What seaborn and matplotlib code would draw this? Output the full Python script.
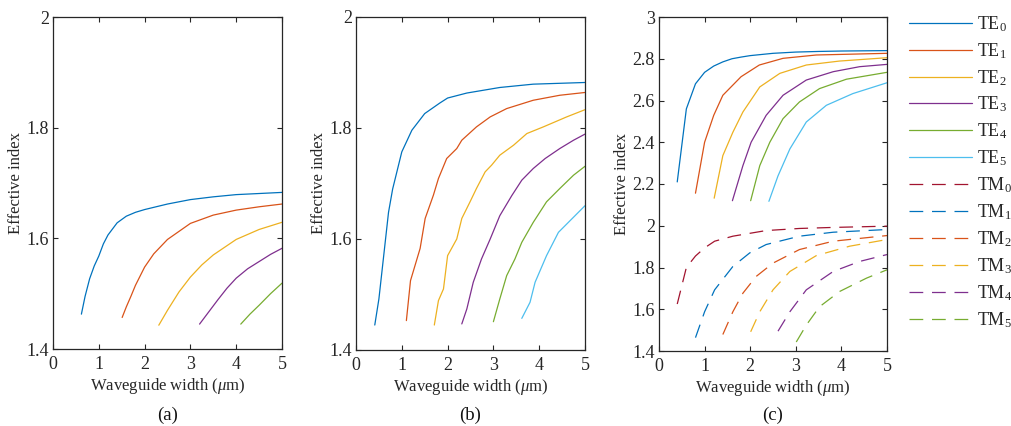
import numpy as np
import pandas as pd
import matplotlib
matplotlib.use("Agg")
import matplotlib.pyplot as plt
import seaborn as sns

# ---------------- data ----------------
# Panel (a)
a_TE0_x = [0.62, 0.7, 0.8, 0.9, 1.0, 1.1, 1.2, 1.4, 1.6, 1.8, 2.0, 2.5, 3.0, 3.5, 4.0, 4.5, 5.0]
a_TE0_y = [1.463, 1.495, 1.527, 1.550, 1.568, 1.590, 1.606, 1.628, 1.640, 1.647, 1.652, 1.662, 1.670, 1.675, 1.679, 1.681, 1.683]
a_TE1_x = [1.51, 1.6, 1.7, 1.8, 2.0, 2.2, 2.5, 3.0, 3.5, 4.0, 4.5, 5.0]
a_TE1_y = [1.457, 1.476, 1.495, 1.515, 1.548, 1.572, 1.598, 1.627, 1.642, 1.651, 1.657, 1.662]
a_TE2_x = [2.31, 2.5, 2.75, 3.0, 3.25, 3.5, 4.0, 4.5, 5.0]
a_TE2_y = [1.443, 1.470, 1.503, 1.530, 1.552, 1.570, 1.598, 1.616, 1.629]
a_TE3_x = [3.2, 3.4, 3.6, 3.8, 4.0, 4.25, 4.5, 4.75, 5.0]
a_TE3_y = [1.445, 1.467, 1.489, 1.510, 1.528, 1.545, 1.558, 1.571, 1.582]
a_TE4_x = [4.1, 4.3, 4.5, 4.75, 5.0]
a_TE4_y = [1.445, 1.463, 1.479, 1.500, 1.519]

# Panel (b)
b_TE0_x = [0.41, 0.5, 0.71, 0.8, 1.0, 1.22, 1.5, 1.83, 2.0, 2.42, 3.14, 3.87, 5.0]
b_TE0_y = [1.445, 1.492, 1.648, 1.690, 1.757, 1.796, 1.826, 1.845, 1.854, 1.863, 1.873, 1.879, 1.882]
b_TE1_x = [1.1, 1.19, 1.4, 1.51, 1.69, 1.8, 1.98, 2.2, 2.31, 2.63, 2.93, 3.29, 3.87, 4.45, 5.0]
b_TE1_y = [1.453, 1.525, 1.583, 1.637, 1.679, 1.709, 1.745, 1.763, 1.778, 1.802, 1.820, 1.835, 1.850, 1.859, 1.864]
b_TE2_x = [1.71, 1.8, 1.91, 2.0, 2.2, 2.31, 2.49, 2.63, 2.82, 2.96, 3.14, 3.44, 3.73, 4.09, 4.6, 5.0]
b_TE2_y = [1.445, 1.489, 1.510, 1.570, 1.600, 1.637, 1.667, 1.691, 1.721, 1.733, 1.751, 1.769, 1.790, 1.802, 1.820, 1.833]
b_TE3_x = [2.31, 2.42, 2.56, 2.74, 2.93, 3.14, 3.4, 3.62, 3.87, 4.13, 4.45, 4.75, 5.0]
b_TE3_y = [1.447, 1.474, 1.522, 1.564, 1.600, 1.642, 1.678, 1.706, 1.727, 1.745, 1.763, 1.778, 1.789]
b_TE4_x = [3.0, 3.14, 3.29, 3.47, 3.62, 3.87, 4.16, 4.45, 4.75, 5.0]
b_TE4_y = [1.451, 1.492, 1.534, 1.564, 1.594, 1.630, 1.667, 1.691, 1.715, 1.731]
b_TE5_x = [3.62, 3.8, 3.91, 4.16, 4.42, 4.71, 5.0]
b_TE5_y = [1.457, 1.486, 1.522, 1.570, 1.612, 1.636, 1.660]

# Panel (c)
c_TE0_x = [0.4, 0.6, 0.8, 1.0, 1.2, 1.4, 1.6, 1.8, 2.0, 2.5, 3.0, 3.5, 4.0, 4.5, 5.0]
c_TE0_y = [2.21, 2.56, 2.68, 2.735, 2.765, 2.785, 2.80, 2.808, 2.815, 2.826, 2.832, 2.835, 2.837, 2.838, 2.839]
c_TE1_x = [0.8, 1.0, 1.2, 1.4, 1.8, 2.2, 2.72, 3.45, 5.0]
c_TE1_y = [2.156, 2.400, 2.529, 2.625, 2.714, 2.770, 2.802, 2.818, 2.826]
c_TE2_x = [1.21, 1.4, 1.62, 1.84, 2.21, 2.65, 3.23, 3.96, 5.0]
c_TE2_y = [2.132, 2.336, 2.448, 2.545, 2.665, 2.730, 2.770, 2.789, 2.805]
c_TE3_x = [1.61, 1.84, 2.02, 2.35, 2.72, 3.23, 3.82, 4.40, 5.0]
c_TE3_y = [2.120, 2.288, 2.400, 2.529, 2.625, 2.698, 2.738, 2.762, 2.773]
c_TE4_x = [2.01, 2.21, 2.43, 2.72, 3.08, 3.52, 4.11, 5.0]
c_TE4_y = [2.120, 2.288, 2.400, 2.513, 2.593, 2.657, 2.702, 2.735]
c_TE5_x = [2.41, 2.61, 2.87, 3.23, 3.67, 4.25, 5.0]
c_TE5_y = [2.117, 2.239, 2.368, 2.497, 2.577, 2.633, 2.685]
c_TM0_x = [0.4, 0.6, 0.8, 1.0, 1.22, 1.62, 2.35, 3.08, 3.82, 5.0]
c_TM0_y = [1.625, 1.800, 1.855, 1.894, 1.926, 1.950, 1.977, 1.987, 1.992, 1.998]
c_TM1_x = [0.8, 1.0, 1.22, 1.62, 1.99, 2.35, 3.08, 3.82, 5.0]
c_TM1_y = [1.464, 1.588, 1.693, 1.805, 1.870, 1.910, 1.950, 1.969, 1.982]
c_TM2_x = [1.4, 1.62, 1.84, 2.13, 2.5, 3.08, 3.82, 5.0]
c_TM2_y = [1.479, 1.588, 1.677, 1.757, 1.821, 1.886, 1.926, 1.953]
c_TM3_x = [2.01, 2.21, 2.5, 2.87, 3.45, 4.18, 5.0]
c_TM3_y = [1.492, 1.588, 1.693, 1.781, 1.857, 1.902, 1.934]
c_TM4_x = [2.61, 2.87, 3.23, 3.82, 4.40, 5.0]
c_TM4_y = [1.495, 1.588, 1.693, 1.781, 1.829, 1.862]
c_TM5_x = [3.01, 3.23, 3.52, 3.96, 4.55, 5.0]
c_TM5_y = [1.443, 1.524, 1.612, 1.685, 1.749, 1.789]

mode_labels = ["TE$_0$", "TE$_1$", "TE$_2$", "TE$_3$", "TE$_4$", "TE$_5$",
               "TM$_0$", "TM$_1$", "TM$_2$", "TM$_3$", "TM$_4$", "TM$_5$"]
te_colors = ["#0072BD", "#D95319", "#EDB120", "#7E2F8E", "#77AC30", "#4DBEEE"]
tm_colors = ["#A2142F", "#0072BD", "#D95319", "#EDB120", "#7E2F8E", "#77AC30"]

panel_a = [(a_TE0_x, a_TE0_y), (a_TE1_x, a_TE1_y), (a_TE2_x, a_TE2_y),
           (a_TE3_x, a_TE3_y), (a_TE4_x, a_TE4_y)]
panel_b = [(b_TE0_x, b_TE0_y), (b_TE1_x, b_TE1_y), (b_TE2_x, b_TE2_y),
           (b_TE3_x, b_TE3_y), (b_TE4_x, b_TE4_y), (b_TE5_x, b_TE5_y)]
panel_c_te = [(c_TE0_x, c_TE0_y), (c_TE1_x, c_TE1_y), (c_TE2_x, c_TE2_y),
              (c_TE3_x, c_TE3_y), (c_TE4_x, c_TE4_y), (c_TE5_x, c_TE5_y)]
panel_c_tm = [(c_TM0_x, c_TM0_y), (c_TM1_x, c_TM1_y), (c_TM2_x, c_TM2_y),
              (c_TM3_x, c_TM3_y), (c_TM4_x, c_TM4_y), (c_TM5_x, c_TM5_y)]

# ---------------- style ----------------
sns.set_theme(style="ticks")
plt.rcParams["font.family"] = ["Liberation Serif", "DejaVu Serif"]
plt.rcParams["mathtext.fontset"] = "custom"
plt.rcParams["mathtext.rm"] = "Liberation Serif"
plt.rcParams["mathtext.it"] = "Liberation Serif:italic"
plt.rcParams["axes.edgecolor"] = "#262626"
plt.rcParams["axes.linewidth"] = 0.9

W, H = 1011, 426
fig = plt.figure(figsize=(W / 100, H / 100), dpi=100)

def px_axes(left, right, top, bottom):
    return fig.add_axes([left / W, 1 - bottom / H, (right - left) / W, (bottom - top) / H])

ax_a = px_axes(53, 282, 17, 349)
ax_b = px_axes(356, 585, 17, 350)
ax_c = px_axes(659, 887, 17, 351)

LW = 0.9
DASH = (0, (11, 7))

def draw(ax, x, y, color, ls="-", label=None):
    df = pd.DataFrame({"x": x, "y": y})
    sns.lineplot(data=df, x="x", y="y", ax=ax, color=color, linewidth=LW,
                 linestyle=ls, label=label, sort=False, estimator=None)

for i, (x, y) in enumerate(panel_a):
    draw(ax_a, x, y, te_colors[i])
for i, (x, y) in enumerate(panel_b):
    draw(ax_b, x, y, te_colors[i])
for i, (x, y) in enumerate(panel_c_te):
    draw(ax_c, x, y, te_colors[i], "-", mode_labels[i])
for i, (x, y) in enumerate(panel_c_tm):
    draw(ax_c, x, y, tm_colors[i], DASH, mode_labels[6 + i])

ylims = [(1.4, 2.0), (1.4, 2.0), (1.4, 3.0)]
yticks = [[1.4, 1.6, 1.8, 2.0], [1.4, 1.6, 1.8, 2.0],
          [1.4, 1.6, 1.8, 2.0, 2.2, 2.4, 2.6, 2.8, 3.0]]
yticklabels = [["1.4", "1.6", "1.8", "2"], ["1.4", "1.6", "1.8", "2"],
               ["1.4", "1.6", "1.8", "2", "2.2", "2.4", "2.6", "2.8", "3"]]
tags = ["(a)", "(b)", "(c)"]

for ax, yl, yt, ytl, tag in zip([ax_a, ax_b, ax_c], ylims, yticks, yticklabels, tags):
    ax.set_xlim(0, 5)
    ax.set_ylim(*yl)
    ax.set_xticks([0, 1, 2, 3, 4, 5])
    ax.set_xticklabels(["0", "1", "2", "3", "4", "5"])
    ax.set_yticks(yt)
    ax.set_yticklabels(ytl)
    for s in ax.spines.values():
        s.set_visible(True)
        s.set_color("#262626")
    ax.tick_params(direction="in", length=3.5, width=0.8, top=True, right=True,
                   labelsize=13, colors="#262626")
    ax.tick_params(axis="x", pad=5)
    ax.tick_params(axis="y", pad=3)
    ax.set_xlabel("Waveguide width ($\\mu$m)", fontsize=12, color="#262626", labelpad=2)
    ax.set_ylabel("Effective index", fontsize=12, color="#262626", labelpad=2)
    ax.grid(False)
    if ax.get_legend() is not None:
        ax.get_legend().remove()
    bb = ax.get_position()
    fig.text((bb.x0 + bb.x1) / 2, 1 - 415 / H, tag, ha="center", va="center",
             fontsize=13.5, color="#111111")

handles, labels = ax_c.get_legend_handles_labels()
leg = fig.legend(handles, labels, loc="upper left",
                 bbox_to_anchor=(909 / W, 1 - 14 / H), frameon=False,
                 fontsize=13, borderpad=0, borderaxespad=0,
                 handlelength=3.5, handletextpad=0.25, labelspacing=0.4)

fig.savefig("out.png", dpi=100)
